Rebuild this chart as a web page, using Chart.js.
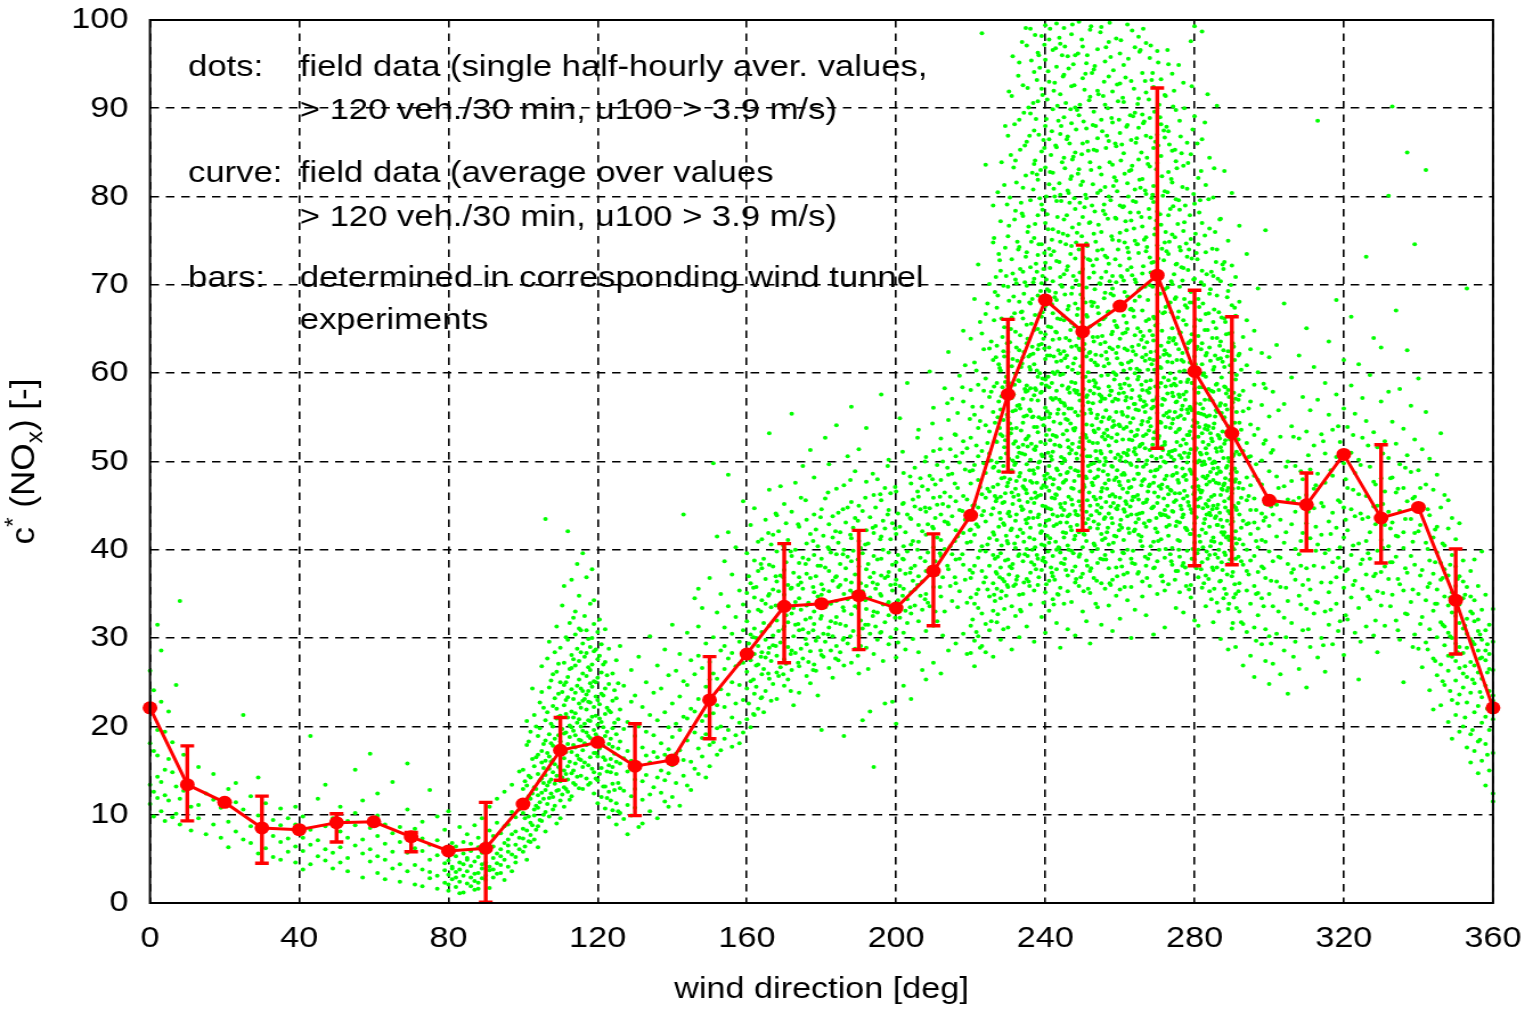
<!DOCTYPE html>
<html>
<head>
<meta charset="utf-8">
<script src="https://cdn.jsdelivr.net/npm/chart.js@4.4.1/dist/chart.umd.min.js"></script>
<style>
html,body{margin:0;padding:0;background:#fff;overflow:hidden;}
#wrap{width:1345px;height:1009px;transform:scaleX(1.13978);transform-origin:0 0;}
</style>
</head>
<body>
<div id="wrap"><canvas id="c" width="1345" height="1009"></canvas></div>
<script>
// ---------- data ----------
const curveDirs = [0,10,20,30,40,50,60,70,80,90,100,110,120,130,140,150,160,170,180,190,200,210,220,230,240,250,260,270,280,290,300,310,320,330,340,350,360];
const curveMean = [22.1,13.4,11.4,8.5,8.3,9.1,9.2,7.5,5.9,6.2,11.2,17.3,18.2,15.5,16.2,23.0,28.2,33.6,33.9,34.8,33.4,37.6,43.9,57.6,68.3,64.7,67.6,71.1,60.2,53.2,45.6,45.1,50.8,43.6,44.8,34.3,22.1];

const barDirs = [10,30,50,70,90,110,130,150,170,190,210,230,250,270,280,290,310,330,350];
const barLow  = [9.3,4.5,6.9,5.8,0.1,13.9,9.9,18.6,27.2,28.7,31.4,48.8,42.2,51.5,38.2,38.3,39.9,38.5,28.2];
const barHigh = [17.8,12.1,10.1,8.0,11.4,21.0,20.3,27.9,40.7,42.2,41.8,66.1,74.5,92.3,69.4,66.4,48.7,51.9,40.1];

const xTickValues = [0,40,80,120,160,200,240,280,320,360];
const yTickValues = [0,10,20,30,40,50,60,70,80,90,100];

const legendKeys = ["dots:", "curve:", "bars:"];
const legendLines = [
  ["field data (single half-hourly aver. values,", "> 120 veh./30 min, u100 > 3.9 m/s)"],
  ["field data (average over values", "> 120 veh./30 min, u100 > 3.9 m/s)"],
  ["determined in corresponding wind tunnel", "experiments"]
];

// field data: [wind direction, c* values ...]
const fieldDots = [
[0,22.5,18.1,13.4,26.3,11.2],[1,17.2,12.6,24.1,9.8],[2,14.3,19.6,31.5,11.9,16.7],[3,10.4,22.8,13.7,28.6],
[4,15.1,12.2,9.3,19.4],[5,11.6,16.3,21.7],[6,9.7,14.8,18.2],[7,13.2,10.1,24.7],[8,11.8,8.9,34.2],[9,12.7,16.8],
[11,10.9,13.6,8.2],[13,9.6,15.4,11.1],[15,7.8,12.4],[17,8.9,11.7,14.6],[19,10.8,7.4],[21,9.2,12.9,6.3],
[23,8.1,11.4,13.6],[25,7.2,10.6,21.3],[27,6.8,12.1,8.7],[29,5.6,9.9,14.2],[31,8.4,6.2,11.3],[33,7.6,9.4,5.2],
[35,6.9,8.8,10.7,4.9],[37,7.3,9.6,5.8],[39,6.4,8.9,4.6,10.9],[41,5.9,7.4,9.8,3.8],[43,6.6,8.3,4.4,18.9],
[45,7.1,5.3,11.8],[47,4.8,8.7,6.1,13.4],[49,5.7,9.6,3.9],[51,8.1,6.3,10.9,4.6],[53,7.4,5.1,9.3,3.6],
[55,8.8,6.5,10.2,15.1],[57,7.2,5.6,2.9,11.6],[59,6.1,8.5,4.7,16.9],[61,7.6,5.3,9.9,3.4,12.4],[63,6.7,4.9,8.9,2.7],
[65,7.9,5.8,3.9,13.7],[67,4.4,6.9,8.6,2.4],[69,5.7,3.6,7.8,10.6,15.8],[71,6.2,4.3,2.1,8.4],[73,3.8,5.9,7.3,1.9,9.2],
[75,4.9,2.8,6.6,3.5,12.8],[77,3.1,5.4,1.6,7.1,9.8],[79,4.5,2.3,6.2,3.7,8.3],
[80,3.2,4.8,2.1,5.9,1.4,10.4],[81,2.7,4.1,6.8,3.9],[82,5.3,3.5,1.8,6.4,2.9],[83,3.8,2.4,4.6,8.6,1.1],
[84,5.6,4.4,1.2,6.9,3.1],[85,2.2,7.8,5.1,3.6,4.9],[86,4.2,2.9,5.9,1.9,6.7],[87,3.3,2.5,8.8,4.7,1.5],
[88,3.4,5.2,2.3,6.3,1.6,7.4],[89,3.9,9.6,5.7,2.8,4.4],[90,4.6,3.1,5.8,2.6,6.9],[91,4.1,8.2,1.7,3.7,10.9],
[92,5.1,3.8,6.4,2.9,7.6],[93,4.5,9.1,5.6,11.8,3.3],[94,4.3,6.1,3.4,7.9,5.3],[95,8.7,2.6,6.8,12.6,4.9],
[96,5.8,7.2,4.1,8.9,6.5],[97,3.6,10.3,7.8,13.4,5.5],[98,6.6,8.1,5.2,9.7,4.6],[99,11.2,7.4,14.9,6.1,10.6],
[100,7.3,12.9,5.8,10.2,15.1,8.4],[100.5,9.6,6.4,13.8,11.1],[101,11.7,4.9,17.9,8.2,20.6,13.3],[102,6.9,14.2,9.1,19.4,7.7,11.8],
[102.5,12.4,16.3,8.8,24.3],[103,10.6,15.5,7.2,13.1,21.3,9.9],[104,16.8,8.7,12.2,18.9,10.8,14.6,6.3],[104.5,11.4,19.8,13.9,9.4,22.7],
[105,14.1,9.3,17.2,12.5,23.9,15.9,26.8],[106,10.3,16.1,12.8,20.7,8.1,18.4,14.5,43.5],[106.5,13.3,21.6,11.2,17.0,27.7],
[107,15.2,11.9,19.1,9.8,24.4,13.7,16.6,29.6],[108,12.0,17.8,22.3,14.8,10.6,20.0,25.9,16.2],[108.5,18.6,13.5,23.2,11.0,15.7,28.4],
[109,14.4,20.9,9.0,17.4,26.2,12.7,22.0,31.3],[110,16.9,11.6,21.2,13.8,25.0,18.3,9.6,15.1,28.9],[110.5,19.7,14.2,23.9,12.3,17.7,33.7],
[111,13.1,22.4,16.4,27.2,10.9,19.2,24.7,15.0,35.9],[112,18.0,12.6,25.6,15.5,21.0,29.8,14.0,23.3,42.1],[112.5,16.0,26.5,20.1,11.7,31.7,18.8],
[113,21.7,14.7,28.1,17.1,24.2,12.1,19.9,36.6,26.6],[114,15.8,23.8,19.0,30.4,13.4,26.9,17.6,21.5,33.0],[114.5,24.6,16.7,28.8,20.4,14.3,38.4],
[115,18.5,27.4,13.0,22.6,31.1,16.3,25.3,20.8,34.8],[116,22.9,15.4,29.4,19.5,26.0,12.9,24.0,17.3,39.6],[116.5,20.3,27.9,15.9,32.5,23.1,18.1],
[117,25.7,17.9,30.9,14.1,21.9,28.3,19.3,36.9,23.6],[118,16.5,24.9,20.6,29.0,13.6,22.7,33.9,18.7,26.4],[118.5,21.1,27.0,15.2,24.5,30.0,37.8],
[119,19.6,25.1,14.8,31.6,22.2,17.0,28.5,12.4,34.3],[120,23.0,16.6,27.6,20.2,13.9,25.5,18.2,30.7,11.3],[120.5,17.5,22.5,28.0,14.6,20.9,32.1],
[121,20.5,15.3,26.1,18.6,12.0,23.7,29.3],[122,16.2,24.3,13.2,21.4,18.9,10.7,27.3,31.0],[122.5,19.4,14.9,22.1,25.8,11.9],
[123,15.6,21.8,12.6,18.0,24.8,9.7,28.8],[124,17.7,13.5,22.9,10.5,19.8,15.4,26.0],[124.5,12.8,20.4,16.9,24.1],
[125,14.6,19.1,11.3,23.2,16.0,27.5,8.9],
[126,13.0,18.3,10.2,21.9,15.8,29.1],[127,9.5,16.4,12.7,24.6,19.7],[128,14.9,11.1,20.5,7.8,17.2],[129,12.1,22.8,16.1,9.9,26.4],
[130,18.9,10.8,14.0,23.5,12.9],[131,15.3,20.0,8.6,27.9],[132,11.7,17.6,22.2,13.8,9.0],[133,19.4,14.5,25.0,16.7],
[134,10.4,21.3,15.9,12.3,30.2],[135,17.1,23.8,13.1,19.0],[136,14.2,9.6,20.7,16.5,26.9],[137,18.1,12.5,24.3,15.0],
[138,11.5,21.6,16.8,28.7,13.9],[139,19.9,14.7,25.8,10.9,17.4],[140,15.6,22.6,12.0,18.8,31.5],[141,20.3,13.6,26.3,16.9],
[142,17.3,11.0,23.4,19.6,28.2],[143,14.4,21.1,16.2,44.0,25.1],[144,18.4,24.7,13.3,20.9,30.6],[145,16.0,22.0,27.5,12.8],
[146,19.3,25.9,15.2,34.5,21.7],[147,23.1,17.5,31.3,14.6,28.0,35.6],[148,20.6,26.6,16.6,33.4,18.7],[149,24.5,14.2,29.4,21.2,19.1],
[150,17.9,27.3,22.8,36.8,15.5,25.3],[151,21.5,30.1,18.2,49.8,26.0],[152,25.4,16.8,41.5,22.4,32.9,19.8],[153,28.6,20.0,24.2,17.3,35.0],
[154,22.2,31.2,18.6,26.5,29.1,38.7],[155,19.6,27.7,42.0,48.5,23.6,33.6],[156,25.0,17.7,30.5,21.0,37.2,28.3],[157,32.4,22.6,26.8,19.0,40.3],
[158,20.4,29.6,24.7,35.4,18.1,27.1],[159,27.2,23.0,33.8,19.3,30.9,45.5],
[160,24.3,35.1,28.7,20.8,31.9,39.6,26.2],[160.5,33.0,22.6,29.4,37.0],[161,27.5,19.9,36.2,30.4,42.8,25.1],
[162,31.1,23.7,44.7,28.2,34.6,21.3,38.8],[162.5,26.9,35.8,30.0,24.5],[163,29.1,37.6,22.0,33.2,27.0,40.9],
[164,34.3,25.9,41.2,30.7,23.3,37.9,28.4],[164.5,31.7,26.5,39.0,21.6],[165,36.7,29.8,24.0,33.9,43.4,27.8],
[166,28.9,38.3,31.4,46.8,25.4,53.2,35.0],[166.5,33.5,27.4,40.6,22.9],[167,38.1,30.3,24.8,35.5,41.7,29.2],
[168,32.0,26.1,43.9,36.4,28.0,39.8,23.1],[168.5,35.3,30.8,25.7,42.1],[169,29.5,37.1,33.8,26.7,47.2],
[170,34.9,27.6,40.2,31.3,45.2,24.6,37.7,29.9],[170.5,38.6,32.6,27.1,43.0],[171,31.8,36.0,25.3,41.1,29.0],
[172,35.7,28.6,55.4,32.8,39.3,26.4,44.3],[172.5,30.2,37.4,33.4,22.4],[173,40.0,34.1,28.3,47.6,31.5],
[174,26.8,36.9,42.6,30.9,34.5,23.8,38.5],[174.5,33.2,28.8,45.9,36.3],[175,31.0,49.5,39.1,27.7,35.6],
[176,37.3,29.3,43.4,33.7,25.7,40.7],[176.5,34.0,38.9,30.6,27.3],[177,32.3,51.3,36.8,28.5,41.8,24.9],
[178,39.4,31.6,48.2,35.2,27.0,44.0,33.0],[178.5,29.7,37.0,42.3,26.3],[179,34.7,40.4,30.1,38.2,23.5],
[180,36.1,28.1,44.6,32.5,19.6,39.0,34.9],[180.5,41.6,30.5,35.5,27.9],[181,33.5,52.7,38.0,29.6,45.8],
[182,37.6,31.2,42.9,26.6,49.7,35.3,40.1],[182.5,28.6,33.9,39.7,31.9],[183,36.5,43.8,30.2,41.4,25.5],
[184,34.2,54.1,39.5,29.1,46.9,32.4,37.0],[184.5,40.8,35.8,27.5,44.2],[185,31.6,38.4,36.0,42.0,28.4],
[186,18.9,35.0,40.0,30.0,47.3,33.1,26.9],[186.5,37.9,43.1,31.4,36.6],[187,50.6,34.4,29.4,39.2,44.8],
[188,32.7,56.2,41.3,36.3,27.2,38.7,45.4],[188.5,30.8,35.1,42.5,39.9],[189,37.2,28.8,43.6,33.6,48.9],
[190,41.0,34.7,51.4,30.3,38.1,26.0,45.0],[190.5,36.2,32.0,40.2,29.1],[191,20.7,39.6,35.3,44.4,31.1],
[192,37.8,53.8,33.3,42.2,28.9,47.7,35.9],[192.5,40.7,31.5,38.4,26.5],[193,34.6,21.7,43.7,36.9,30.5],
[194,15.4,39.3,33.0,46.2,37.4,28.2,41.9],[194.5,35.6,42.7,31.3,44.8],[195,38.9,32.9,48.0,36.1,29.8],
[196,57.6,41.5,34.8,39.0,30.7,45.6,37.1],[196.5,33.8,43.3,27.4,40.0],[197,22.6,36.8,42.4,31.8,47.0],
[198,39.7,50.2,34.1,44.5,29.3,37.5,32.6],[198.5,41.2,36.0,46.4,30.1],[199,22.8,38.3,33.4,43.0,35.4],
[200,36.6,20.3,41.8,31.0,46.6,38.6,27.8],[200.5,34.3,44.1,39.4,29.5],[201,54.9,37.7,32.3,42.6,35.9],
[202,40.4,24.6,35.6,45.3,30.6,38.9,48.7],[202.5,33.1,42.0,37.3,28.7],[203,58.9,39.8,34.4,44.0,31.7],
[204,23.1,37.9,43.5,32.8,47.5,40.6,35.2],[204.5,41.0,36.5,29.9,45.7],[205,38.2,44.9,33.7,49.3,35.5],
[206,53.6,40.9,31.9,46.0,37.0,42.8,28.4],[206.5,39.1,34.8,44.6,48.1],[207,36.4,26.4,42.1,47.2,33.2],
[208,25.3,41.7,37.6,50.5,35.0,44.3,30.8],[208.5,39.7,46.8,34.0,42.9],[209,60.2,38.0,44.7,33.6,48.4],
[210,27.2,56.1,40.3,45.9,35.8,51.2,42.4,31.4],[210.5,38.7,47.4,43.6,33.0],[211,31.9,41.4,49.6,37.2,45.1],
[212,26.0,44.0,39.3,52.6,34.7,47.9,41.1],[212.5,36.9,45.2,50.0,30.3],[213,58.3,40.1,33.0,46.5,43.2],
[214,62.4,28.6,42.9,48.5,37.8,54.7,44.9],[214.5,40.4,51.4,35.9,46.0],[215,48.6,34.2,43.8,39.5,57.1],
[216,53.0,29.4,45.5,38.9,50.6,42.2,36.2],[216.5,47.0,41.5,55.5,33.5],[217,59.7,35.3,44.5,49.9,39.0],
[218,64.8,30.5,46.1,41.9,52.3,38.3,56.8],[218.5,43.4,49.1,36.6,60.9],[219,28.2,51.5,40.8,45.7,34.0],
[220,31.4,44.2,36.8,52.7,28.3,40.9,47.5,58.1,34.6,63.9,42.3],[220.5,37.4,49.0,56.2,32.1,45.0],
[221,38.2,29.7,49.6,55.3,33.9,45.1,61.2,41.7,26.8,68.4],[221.5,42.9,35.0,60.3,51.8,30.7],
[222,35.5,47.9,30.2,53.8,42.6,39.1,58.7,44.8,33.4,72.3,50.6],[222.5,47.1,39.9,65.8,54.6,28.9],
[223,40.4,32.8,56.2,46.3,37.6,64.5,29.1,51.2,43.9,98.5],[223.5,36.3,58.0,44.4,49.8,62.7],
[224,36.9,48.7,59.4,31.6,43.2,54.1,39.8,66.7,83.6,45.9,28.4],[224.5,52.1,40.6,67.9,35.5,46.9],
[225,41.3,34.7,50.9,62.8,38.2,46.6,57.3,30.9,70.1,53.4],[225.5,44.0,57.9,31.9,63.6,50.1],
[226,33.1,44.7,55.6,39.4,49.3,61.5,36.2,47.1,74.8,42.0,27.9,79.0],[226.5,39.0,54.4,69.2,46.1,34.2],
[227,45.8,37.3,58.9,52.2,31.8,67.4,41.1,49.9,35.6,63.1],[227.5,56.8,42.6,61.0,48.9,73.5],
[228,39.6,50.4,34.5,60.3,46.0,55.9,29.8,71.6,43.5,53.1,38.0,77.2],[228.5,45.3,36.7,64.1,52.9,58.4],
[229,48.2,36.4,57.7,42.8,65.2,51.6,33.3,61.9,45.4,81.3],[229.5,50.9,41.6,71.0,34.8,59.6],
[230,40.7,52.9,35.8,62.4,47.6,58.6,31.2,69.8,44.1,55.0,38.9,75.5,86.9],[230.5,43.8,63.5,54.3,38.1,79.9,48.0],
[231,46.5,37.9,60.8,53.7,33.6,72.9,42.4,57.2,49.0,66.3,91.4,28.7],[231.5,57.6,46.0,68.7,35.9,52.0,83.3],
[232,43.3,55.8,36.1,64.7,49.8,59.9,32.5,78.4,46.9,52.3,40.2,84.1,70.6],[232.5,41.5,61.4,50.5,74.9,37.0,56.3],
[233,51.0,39.5,62.6,45.6,68.1,56.4,34.9,74.3,48.3,88.7,59.1,30.1,95.2],[233.5,53.5,44.9,66.9,33.0,79.3,60.7],
[234,44.6,57.1,38.7,66.2,51.9,61.8,35.0,81.0,47.2,71.5,41.9,92.6,54.4,77.8],[234.5,47.9,70.3,39.5,58.2,85.8,50.8],
[235,49.7,40.1,63.4,55.2,69.9,46.4,36.7,86.2,58.6,73.7,43.0,97.1,52.6,31.3,65.5],[235.5,61.9,43.6,76.6,52.9,36.4,90.1],
[236,42.5,58.3,37.4,67.9,50.2,62.1,33.8,79.6,47.8,89.4,55.7,72.0,44.3,99.0,60.4],[236.5,55.0,40.0,68.4,47.6,82.7,63.0],
[237,53.9,41.2,64.9,48.6,75.3,57.5,35.4,83.7,45.3,94.1,61.0,38.3,70.7,51.4,87.5,29.6],[237.5,45.9,72.4,58.1,37.8,88.8,51.7],
[238,46.1,59.6,39.0,68.8,53.3,77.9,43.7,90.8,56.9,65.0,36.0,81.9,49.3,96.3,62.7,73.4],[238.5,66.7,50.0,79.8,42.8,60.0,94.6],
[239,50.8,42.1,66.4,57.9,85.1,47.0,74.6,37.7,92.2,54.8,63.3,40.6,79.1,98.2,58.8,32.4,70.2],[239.5,54.1,39.1,71.8,47.3,86.4,63.9,34.0],
[240,44.9,61.6,38.6,72.5,52.0,83.3,48.0,95.5,56.1,67.6,35.2,88.0,42.7,77.0,59.3,99.4,64.4,30.6],[240.5,48.6,62.0,41.6,78.0,55.7,91.0,69.5],
[241,53.6,40.8,69.3,46.7,81.4,58.4,36.5,93.0,62.9,49.5,74.1,33.1,86.5,55.0,97.8,43.4],[241.5,57.2,44.6,73.4,50.6,65.2,84.7,38.0],
[242,47.4,63.8,39.3,76.3,57.0,89.9,51.1,34.4,70.4,44.0,96.6,60.1,82.7,37.0,66.8,53.0],[242.5,51.9,68.6,36.6,80.0,45.8,92.9,59.9],
[243,58.0,42.9,72.7,49.2,85.6,37.8,64.6,94.7,52.8,31.7,79.5,46.2,68.3,99.6,40.0,61.3],[243.5,62.6,47.0,76.0,40.3,55.9,88.6,34.9],
[244,45.2,66.1,54.3,80.2,39.7,91.6,59.8,48.5,74.9,35.7,87.1,62.2,43.1,97.3,51.7,70.9,28.9],[244.5,49.8,69.8,43.9,83.9,58.6,96.0],
[245,50.3,38.4,71.2,56.6,84.4,44.5,93.8,62.5,33.9,77.4,47.7,66.0,41.4,89.0,55.4,99.1],[245.5,54.8,41.9,74.6,47.9,64.0,90.6,37.7],
[246,43.8,60.7,37.1,75.6,52.4,86.8,48.8,67.2,31.0,95.9,58.2,40.5,80.7,54.7,72.1,35.3],[246.5,63.7,50.9,79.3,44.0,57.8,86.0],
[247,56.0,45.7,69.0,39.9,82.3,51.3,63.0,92.5,42.2,74.4,34.1,88.3,59.0,47.0,98.4,65.7],[247.5,46.9,71.0,53.7,39.6,84.5,61.1,95.0],
[248,41.6,58.9,49.0,73.0,36.3,85.0,61.7,44.4,78.6,53.8,96.0,38.1,67.9,30.3,90.1,55.6],[248.5,58.0,42.8,75.9,50.3,66.6,89.8],
[249,48.4,64.0,42.0,76.9,57.6,89.2,35.9,70.0,51.6,83.1,45.5,62.8,99.8,39.2,74.0],[249.5,52.7,68.9,45.0,81.3,36.9,60.8],
[250,53.2,40.3,68.5,46.8,81.7,59.5,33.0,93.4,56.3,71.8,43.6,86.0,64.9,37.3,77.7,50.0,97.0],[250.5,47.1,63.3,55.4,78.8,41.7,92.1],
[251,44.3,61.9,38.8,74.7,52.7,87.7,48.1,66.6,31.9,95.1,57.3,41.0,79.8,54.2,69.7],[251.5,60.1,49.5,72.9,43.5,85.2,56.7,35.6],
[252,50.6,37.6,65.3,45.0,83.9,58.0,91.3,42.5,72.8,35.1,62.4,98.9,48.9,77.1,55.9,29.4],[252.5,54.1,67.6,39.8,79.0,47.6,94.0],
[253,46.0,59.2,40.7,71.4,53.5,85.3,63.6,36.8,94.4,49.8,75.8,43.2,68.0,57.7,89.6],[253.5,45.7,62.1,51.2,74.9,58.9,88.0,33.9],
[254,55.3,42.4,67.5,48.3,80.4,38.5,92.0,60.9,45.1,73.9,33.5,86.6,52.1,96.7,64.1,40.1],[254.5,57.6,44.1,70.2,50.0,83.3,65.5],
[255,41.8,57.4,50.9,76.0,36.2,88.7,62.0,46.6,70.8,54.5,82.5,31.5,99.2,59.7,44.8],[255.5,48.9,66.1,38.9,78.4,55.0,91.4],
[256,52.5,39.4,66.3,47.5,81.1,57.1,90.4,43.7,73.3,35.6,63.5,95.3,50.4,78.0,41.3,69.1],[256.5,61.6,46.9,73.1,53.6,86.9,42.0],
[257,47.9,61.1,37.9,72.4,54.8,86.3,44.1,67.0,33.7,93.6,58.5,40.6,80.0,51.8,97.5],[257.5,51.1,69.0,44.9,79.6,58.0,95.8,36.0],
[258,56.8,43.0,69.6,49.4,83.6,39.8,91.9,62.7,46.3,75.1,36.6,64.7,53.9,88.4,30.8,71.0],[258.5,59.3,47.9,65.9,41.6,82.2,54.1],
[259,44.7,59.8,52.3,77.5,41.5,85.7,65.4,48.2,97.9,38.0,70.3,55.6,81.8,34.8,62.3],[259.5,45.0,63.0,50.8,74.0,57.0,90.8],
[260,50.1,38.9,67.8,45.9,79.0,58.7,92.8,42.8,72.2,54.0,87.2,35.5,63.9,96.2,47.3,75.9,32.2],[260.5,55.6,42.5,70.9,48.5,85.9,61.0,38.1],
[261,53.7,41.1,70.5,48.7,84.9,60.3,37.2,94.9,57.8,66.5,44.6,78.9,51.0,90.7,39.6],[261.5,50.0,64.6,45.5,77.2,56.9,93.5],
[262,46.5,62.6,40.0,74.2,55.1,88.1,50.7,68.7,34.3,81.5,43.8,99.5,59.4,71.7,37.4,65.0],[262.5,58.6,41.9,73.0,52.5,82.9,47.0],
[263,57.2,44.0,72.0,49.6,86.4,61.4,39.0,93.1,53.4,77.3,35.8,67.3,47.1,83.0,30.0],[263.5,46.0,67.1,54.9,79.5,39.9,89.1,62.5],
[264,42.3,60.0,51.5,75.0,38.4,89.5,64.3,46.0,70.6,56.5,96.9,33.2,80.8,52.9,68.2],[264.5,53.0,60.5,44.0,74.6,49.4,86.6],
[265,48.6,63.2,41.7,78.2,55.8,91.1,45.7,69.4,37.5,84.2,59.6,98.1,50.2,73.6,43.5,87.8],[265.5,57.0,41.0,69.6,51.9,81.0,64.7,96.6],
[266,54.6,40.4,67.1,47.8,82.0,61.8,36.4,94.0,52.0,76.6,44.2,71.3,58.1,89.3,34.7],[266.5,48.0,62.9,56.8,75.1,43.0,88.5],
[267,45.4,59.1,38.2,73.8,53.1,86.9,49.7,65.9,32.6,80.3,42.6,97.4,62.1,75.4,56.4,91.8],[267.5,54.5,46.6,68.3,39.0,83.7,60.4],
[268,51.3,64.8,43.3,77.6,39.5,88.9,58.3,47.4,70.0,35.9,83.4,54.9,95.7,61.6,73.1],[268.5,61.0,50.6,72.5,44.7,79.8,56.0,93.2],
[269,47.6,61.5,40.9,72.6,56.2,85.5,44.9,66.4,37.9,79.4,52.6,92.4,63.7,81.2,30.4],[269.5,49.0,65.4,42.4,76.4,58.5,86.2],
[270,55.5,42.0,68.9,49.1,83.8,59.9,38.7,90.0,53.6,74.5,45.3,65.6,57.4,96.5,35.0,87.0,78.3],[270.5,52.9,47.2,70.0,61.8,40.0,90.4],
[271,43.9,60.6,50.5,76.8,37.0,88.2,63.1,46.9,71.1,41.2,84.6,54.4,93.3,58.9],[271.5,57.1,44.0,66.8,51.3,80.1,36.4],
[272,52.2,39.1,66.9,48.0,80.6,57.0,35.4,91.5,62.6,44.5,74.8,51.9,86.7,69.5,31.2],[272.5,48.4,62.2,55.5,73.8,42.6,87.9],
[273,46.3,63.5,41.6,73.5,55.0,87.4,50.8,67.7,36.1,82.8,59.2,95.0,43.7,77.9],[273.5,53.8,39.5,68.0,46.8,78.6,60.0],
[274,57.8,44.4,70.1,51.2,85.2,61.2,38.3,93.9,48.4,75.7,40.2,65.1,54.3,81.6],[274.5,45.4,58.8,50.2,71.2,64.0,92.0],
[275,42.7,58.6,49.4,72.3,37.6,84.0,63.3,45.6,89.8,53.3,68.6,33.4,79.7,56.7],[275.5,55.0,41.1,66.3,47.9,76.9,37.6],
[276,50.7,39.2,64.5,46.4,78.5,57.3,88.6,43.1,69.8,35.2,60.2,53.7,74.3,41.0],[276.5,50.4,61.5,44.6,72.0,55.9,84.9],
[277,45.8,61.3,38.5,71.9,52.5,83.5,48.3,66.0,32.9,57.6,92.9,44.0,76.1],[277.5,42.5,57.0,48.5,67.7,38.0,79.0],
[278,55.9,42.2,67.4,49.9,80.9,37.3,62.8,46.1,73.2,53.0,86.1,39.9,59.0],[278.5,53.0,45.0,63.5,50.9,74.0,35.5],
[279,48.9,36.0,63.7,44.6,75.2,56.0,41.8,69.2,51.4,84.8,34.6,60.5,97.6],[279.5,47.1,58.9,40.1,68.0,54.0,87.6],
[280,43.0,58.2,50.0,70.7,38.9,79.2,54.6,46.5,65.3,32.0,89.1,61.9,40.8,99.3],[280.5,51.5,43.7,62.7,48.0,73.6,37.9],
[281,52.8,40.0,64.2,47.2,74.6,57.8,36.9,68.4,44.9,82.1,55.5,31.4],[281.5,45.9,56.5,40.9,66.0,51.0,79.6],
[282,46.7,61.0,38.6,71.6,53.2,42.3,77.0,49.6,63.4,35.7,86.5,58.4,98.7],[282.5,50.0,43.0,60.0,36.2,70.0,55.3],
[283,54.1,41.9,66.7,48.1,59.6,37.1,73.7,45.2,81.3,51.5,33.6,62.0],[283.5,44.9,53.6,39.0,64.9,48.4,91.6],
[284,44.2,57.0,39.4,69.0,50.3,62.9,35.3,76.4,47.7,55.2,42.6,84.4],[284.5,52.6,41.0,58.0,46.0,71.5,34.4],
[285,49.2,37.7,60.4,45.0,71.0,53.8,41.4,65.8,31.8,57.9,79.9,47.9],[285.5,43.6,55.1,39.5,62.0,49.9,76.0],
[286,42.8,55.6,38.0,64.0,48.6,74.0,44.7,58.8,34.0,68.8,51.1,90.3],[286.5,47.5,40.0,58.1,52.9,33.0,66.9],
[287,51.6,40.7,61.7,46.2,70.4,36.5,56.6,43.4,77.5,29.9,63.6,48.8],[287.5,42.6,53.4,37.7,61.3,46.8,72.3],
[288,45.5,58.5,39.7,66.2,52.0,35.6,72.6,47.5,60.7,42.0,55.0,82.9],[288.5,49.3,41.4,57.7,35.0,64.4,53.3],
[289,50.4,38.4,62.5,44.4,69.3,54.0,33.3,58.1,41.5,75.0,47.0,28.7],[289.5,44.1,52.5,38.9,60.9,47.9],
[290,43.6,56.1,37.0,64.6,49.0,72.2,40.4,53.5,60.0,31.1,46.4,67.7,80.4],[290.5,40.1,50.8,45.0,57.8,34.6,63.0],
[291,48.0,39.0,59.3,44.8,66.5,35.0,52.9,42.1,70.9,57.1,29.0],[292,41.2,54.4,36.2,62.2,47.6,33.0,57.5,44.0,68.1,50.8,76.7],
[292.5,45.9,38.7,53.6,42.5,60.4,31.8],[293,46.9,38.3,58.0,43.3,64.1,31.6,51.2,40.6,55.7,26.9],
[294,40.0,52.1,35.4,60.9,45.6,48.2,37.6,66.0,42.9,30.7,73.5],[294.5,43.0,37.2,50.5,46.1,56.0],
[295,44.5,56.8,38.8,50.6,33.9,62.7,41.8,47.3,28.0,54.2],[296,39.3,48.4,35.9,58.7,43.1,31.2,53.0,45.8,64.8,25.6],
[296.5,41.0,35.0,49.7,44.5,29.7],[297,42.4,53.7,37.5,47.9,32.6,60.1,40.3,69.6,35.1],[298,38.1,50.1,44.1,34.5,56.4,41.1,29.3,47.4,62.3],
[298.5,43.3,37.9,52.0,33.6,58.8],[299,45.2,36.8,52.4,40.9,31.0,58.3,43.7,27.4,76.2],[300,39.8,48.9,35.0,55.1,42.7,30.2,46.0,61.8,24.8],
[301,44.0,33.6,51.3,38.7,27.1,57.9],[302,41.5,36.4,48.3,30.5,63.2,45.1],[303,35.8,52.8,43.4,25.9,39.1],
[304,47.2,32.3,40.8,56.5,28.6,67.9],[305,38.4,45.7,34.2,50.0,23.7],[306,42.9,31.7,54.0,37.4,47.8,59.5],
[307,36.6,49.5,29.6,44.3,40.1],[308,45.9,34.8,52.6,26.5,39.5,62.0],[309,41.9,30.9,48.0,36.0,57.3],
[310,37.9,46.2,33.3,53.4,43.0,24.4,65.1],[311,49.1,35.5,41.3,29.0,55.8],[312,44.7,38.2,51.8,32.8,46.9,60.7],
[313,40.6,34.0,48.6,27.8,88.6,57.0],[314,36.3,45.3,53.1,30.0,41.7],[315,47.6,39.6,33.0,50.9,58.9,26.2],
[316,43.2,35.2,55.3,40.0,31.5,63.6],[317,38.6,48.4,44.2,29.3,53.6],[318,50.5,36.9,42.5,57.6,33.9,68.3],
[319,45.4,40.3,31.9,52.2,38.0],[320,41.4,49.8,35.7,56.0,44.8,28.1,61.5],[321,47.0,37.8,53.9,42.2,32.1],
[322,39.4,51.0,44.6,34.6,58.6,66.4],[323,43.8,36.5,48.7,30.6,55.4],[324,50.2,40.7,33.4,46.3,61.0,25.3],
[325,38.9,52.7,43.5,35.6,57.2],[326,46.1,37.2,41.0,54.6,31.3,73.2],[327,42.0,49.4,34.4,59.8,39.0],
[328,37.0,47.7,44.9,30.3,53.3,64.0],[329,45.0,39.9,51.6,35.3,28.4],[330,41.1,48.1,33.7,56.8,43.9,62.9,37.5],
[331,46.6,38.1,52.3,31.4,42.8],[332,36.7,44.3,50.4,40.4,57.9,80.1],[333,43.1,34.9,48.2,38.6,90.2,54.5],
[334,39.2,46.5,32.0,52.0,41.6,67.1],[335,44.4,36.1,49.7,29.8,58.2],[336,40.2,47.0,35.4,53.7,42.0,25.0],
[337,37.4,45.5,85.0,32.7,50.7,62.6],[338,43.5,39.3,48.8,34.1,56.3],[339,38.3,46.0,30.4,52.5,41.9,74.6],
[340,42.1,35.0,49.0,28.8,44.7,59.4],[341,37.7,45.1,32.4,51.4,26.7],[342,40.8,34.3,47.4,29.5,83.0,55.6],
[343,36.2,43.9,31.0,38.8,24.1,50.3],[344,41.4,33.1,46.8,27.7,37.3,21.9],[345,35.5,42.6,30.1,48.5,25.8,39.7,33.9],
[346,38.5,31.8,44.8,27.0,36.6,22.4,53.2],[347,34.7,40.5,29.2,46.2,24.7,37.8,31.3],[348,37.1,30.6,42.4,26.3,33.7,20.5,45.6,28.0],
[349,32.9,39.4,27.9,35.2,23.0,43.6,30.0,18.6],[350,35.9,29.4,41.2,25.2,32.5,21.3,38.1,27.4],[351,31.7,37.0,26.6,33.8,23.6,43.0,19.4,29.0],
[352,34.5,28.3,38.8,24.4,31.1,20.0,36.4,26.0],[353,30.5,35.8,25.6,69.6,32.2,22.7,17.6,28.9],[354,33.0,27.3,37.6,23.8,29.9,19.1,34.7,15.9],
[355,29.3,34.3,24.9,31.9,21.6,26.9,17.2,38.9],[356,32.1,26.1,35.9,22.3,28.6,18.3,30.8,14.7],[357,27.8,33.2,23.3,29.8,20.4,25.4,16.1,39.8],
[358,30.9,24.6,34.9,21.1,27.5,18.0,13.3,28.6],[359,26.5,31.5,22.1,28.2,19.6,24.0,15.0],[360,29.6,23.5,33.3,20.8,26.4,17.0,12.4,11.5,22.9]
];

// more field data in the dense clusters: [wind direction, c* values ...]
const fieldDotsDense = [
[101.5,9.8,14.4,7.0,12.1,18.3],[103.5,12.9,8.3,16.5,11.0,20.0],[105.5,13.6,10.0,18.0,15.3,22.1,11.8],
[107.5,16.0,12.4,20.3,14.0,25.2,18.1],[109.5,15.4,19.0,12.8,23.7,17.0,27.1,21.1],[111.5,17.1,21.4,14.6,25.0,19.3,30.1,12.9,23.0],
[113.5,19.5,15.0,23.1,17.9,27.6,21.0,32.3,13.6],[115.5,20.0,16.2,24.3,18.4,28.4,22.1,14.4,30.9],[117.5,18.9,22.8,15.6,26.7,20.7,29.9,13.4,24.0],
[119.5,17.0,21.2,14.1,25.0,19.1,28.7,23.4],[121.5,16.5,19.9,13.2,23.5,17.8,27.0],[123.5,14.8,18.6,11.6,21.6,16.3],[125.5,13.6,17.5,10.4,20.8,24.9],
[161.75,30.1,25.3,35.7,21.4],[163.75,33.0,27.9,38.4,23.2],[165.75,28.3,34.8,26.0,41.9],[167.75,33.7,29.1,37.0,44.1],
[169.75,31.0,36.9,25.9,40.5],[171.75,35.6,28.2,39.8,24.0],[173.75,36.0,31.6,42.9,27.2],[175.75,32.1,38.4,29.9,45.6],
[177.75,35.8,30.9,41.0,26.4],[179.75,38.2,32.2,43.7,28.6],[181.75,34.0,40.3,30.4,46.5],[183.75,36.9,31.7,42.1,27.7],
[185.75,39.5,33.5,44.6,29.8],[187.75,35.4,41.7,30.2,47.9],[189.75,38.9,33.4,43.3,28.0],[191.75,40.6,34.3,45.9,31.5],
[193.75,36.3,42.5,32.5,48.6],[195.75,41.2,35.0,46.3,30.6],[197.75,37.0,44.0,33.9,49.5],[199.75,42.4,36.1,47.1,32.3],
[201.75,39.0,45.2,34.8,51.1],[203.75,43.6,37.4,48.3,33.5],[205.75,40.0,46.6,36.0,52.7],[207.75,44.8,38.7,50.0,34.4],
[209.75,42.6,48.0,37.1,54.3],[211.75,46.0,39.6,51.4,35.8],[213.75,43.1,49.3,38.2,56.6],[215.75,47.5,41.0,53.1,36.9],
[217.75,44.4,51.0,39.5,58.4],[219.75,48.9,42.2,54.8,37.7],
[226.25,41.7,58.5,34.9,66.0,49.4,75.3],[226.75,52.3,37.5,61.8,45.5,70.9],[227.25,39.2,55.0,47.4,68.8,32.7,80.5],
[227.75,60.6,44.2,53.8,36.9,72.8],[228.25,48.1,66.2,40.5,57.4,83.9,35.3],[228.75,54.7,43.0,69.9,49.5,62.5,31.0],
[229.25,46.4,38.8,59.0,74.2,52.4,88.0],[229.75,63.4,41.0,55.3,47.2,79.1,36.0],[230.25,50.3,68.2,44.3,58.9,37.2,91.9,76.7],
[230.75,57.4,42.2,65.0,48.8,84.7,53.2],[231.25,45.2,61.6,38.4,71.3,55.7,95.9,50.1],[231.75,66.8,49.6,40.7,77.4,58.7,88.2],
[232.25,53.8,44.0,62.9,36.6,81.6,70.2,47.8],[232.75,59.2,46.2,74.0,51.6,93.7,39.3],[233.25,48.7,64.3,42.3,85.3,56.0,71.8,33.2],
[233.75,61.1,50.9,78.1,44.5,97.5,67.0],[234.25,55.1,40.9,69.0,47.0,89.5,62.4,36.3],[234.75,46.8,73.2,57.9,43.4,82.4,52.5,99.1],
[235.25,63.9,51.7,39.3,76.0,58.0,92.3,45.4],[235.75,49.0,68.0,55.9,41.4,86.9,60.7,35.9],[236.25,57.0,45.8,74.9,52.0,95.4,65.6,38.6],
[236.75,62.2,43.6,80.8,49.0,70.3,90.6,55.1],[237.25,51.3,66.6,40.3,84.1,58.3,76.9,46.5,98.3],[237.75,60.3,47.6,71.5,53.9,93.2,39.4,82.5],
[238.25,44.0,63.2,55.0,87.0,49.9,74.6,36.9,96.0],[238.75,57.8,41.9,69.3,52.2,83.0,64.6,46.2],[239.25,50.6,66.9,38.8,78.5,59.4,91.5,45.0,71.0],
[239.75,62.8,48.4,85.5,54.9,73.6,40.5,97.2],[240.25,53.0,43.3,70.6,58.6,88.8,47.1,80.0,36.1],[240.75,65.3,51.0,76.3,44.7,94.2,59.6,39.8],
[241.25,48.2,62.0,55.4,82.8,41.3,71.9,99.0,52.4],[241.75,58.9,45.9,67.8,50.2,87.4,75.1,37.4],[242.25,54.5,42.7,73.8,61.9,92.0,48.0,80.9,33.8],
[242.75,46.3,64.7,57.2,85.8,52.9,69.1,40.9,96.8],[243.25,60.2,49.0,77.7,43.8,66.2,90.3,55.4,35.0],[243.75,51.8,63.9,40.2,81.5,57.0,72.6,46.9,98.0],
[244.25,56.7,44.8,70.0,61.4,88.0,50.5,38.5,79.5],[244.75,47.6,59.9,53.1,75.8,42.0,93.6,66.5],[245.25,61.7,50.1,83.2,45.3,68.9,56.3,97.0,39.0],
[245.75,53.5,71.7,43.1,62.0,86.5,48.7,77.9],[246.25,46.0,58.4,51.6,80.4,40.0,67.6,94.5,56.0],[246.75,64.9,49.3,73.5,54.3,89.9,42.6,82.0],
[247.25,52.0,45.1,69.7,60.4,84.2,37.6,76.5,99.5],[247.75,58.1,47.8,79.8,53.5,65.3,92.6,41.2],[248.25,50.9,63.1,44.0,74.8,57.8,87.6,36.7,70.5],
[248.75,60.0,48.9,82.6,55.2,67.3,96.2,43.9],[249.25,46.6,56.9,71.4,52.2,90.4,62.6,39.5,79.3],[249.75,55.7,44.5,65.8,50.7,84.8,75.5,97.8],
[250.25,51.4,62.7,41.8,73.1,58.2,88.5,47.4,35.3],[250.75,59.6,48.3,80.2,53.0,68.0,93.9,43.0],[251.25,45.6,57.5,66.4,50.6,86.2,74.4,38.2,96.0],
[251.75,62.3,52.3,77.0,46.5,59.1,90.9,70.8],[252.25,49.7,43.9,68.1,55.5,83.0,61.5,37.9,99.3],[252.75,56.6,47.3,72.2,64.1,88.1,52.1,81.4],
[253.25,53.3,40.5,61.2,48.1,78.3,69.5,94.8,58.5],[253.75,44.4,60.9,54.9,85.2,50.3,72.9,36.5],[254.25,58.3,49.1,66.8,42.9,91.6,76.8,53.7],
[254.75,51.2,63.3,45.9,80.7,56.8,70.1,98.6,39.0],[255.25,47.0,57.1,74.0,52.8,87.4,64.2,41.1],[255.75,60.8,53.2,43.5,79.1,68.5,93.0,49.6],
[256.25,55.8,45.4,62.4,71.5,50.0,85.5,38.9,96.9],[256.75,48.5,59.8,52.9,77.5,66.9,90.0,42.5],[257.25,57.5,46.1,70.4,55.0,83.9,62.9,36.2,99.7],
[257.75,52.7,64.4,43.6,75.5,49.5,88.9,58.0],[258.25,45.3,60.1,54.6,81.2,68.8,94.3,40.8],[258.75,59.9,50.4,72.9,57.1,86.0,46.0,77.6],
[259.25,53.1,44.6,65.2,49.0,80.6,61.7,92.7,37.0],[259.75,57.7,67.9,47.7,75.0,54.2,88.7,42.2],[260.25,50.5,61.1,43.4,71.0,58.3,84.1,97.7],
[260.75,46.9,55.3,78.8,64.5,52.5,91.2,39.7],[261.25,58.8,48.5,69.2,44.3,82.6,62.8,74.8,35.8],[261.75,53.9,65.7,50.9,87.9,57.3,76.2,45.2],
[262.25,47.8,56.1,73.7,42.4,80.0,61.2,95.6,51.3],[262.75,60.5,49.8,67.2,54.4,89.2,44.9,78.2],[263.25,52.4,45.6,63.0,58.1,83.5,71.1,38.5,98.8],
[263.75,56.5,48.0,76.4,51.1,66.4,92.2,42.1],[264.25,50.8,62.1,43.1,70.3,55.9,86.1,79.4],[264.75,46.2,59.3,53.6,74.6,48.6,90.5,65.1,37.3],
[265.25,57.4,51.7,68.7,44.1,81.9,60.3,96.4],[265.75,54.2,63.8,47.3,77.7,58.7,85.0,41.5],[266.25,49.4,56.2,72.1,45.3,88.3,64.2,52.9,99.0],
[266.75,61.4,51.5,80.7,55.6,69.8,93.1,39.2],[267.25,45.7,58.0,50.1,74.3,63.5,84.4,36.8],[267.75,53.5,66.1,47.2,78.6,57.8,91.0,43.3],
[268.25,59.2,48.9,71.4,54.0,86.7,62.4,40.4,97.1],[268.75,51.9,44.8,64.3,56.9,80.2,69.8,94.0],[269.25,48.3,60.4,53.3,75.7,46.5,89.6,66.2,38.0],
[269.75,57.1,50.3,70.7,62.5,83.1,43.6,77.3],[270.25,52.6,46.0,67.0,58.4,85.8,73.0,95.2,41.0],[270.75,60.7,49.4,78.0,54.5,69.0,89.0,44.1],
[271.25,47.4,56.4,64.8,51.7,82.3,74.1,37.1],[271.75,55.2,62.1,45.8,72.8,59.5,87.5,50.0],[272.25,49.9,58.5,43.9,76.0,53.9,67.5,91.4,40.1],
[272.75,57.7,47.1,69.7,61.3,80.5,45.0,96.6],[273.25,51.1,64.0,55.7,74.9,42.8,85.9,62.0],[273.75,46.7,58.6,50.5,70.4,66.9,82.0,38.7],
[274.25,54.8,44.3,63.7,57.4,78.9,48.5,90.2],[274.75,59.4,51.3,68.4,46.4,75.4,55.6,85.3,36.6],[275.25,48.7,56.8,43.2,72.4,61.5,83.2,52.2],
[275.75,53.6,62.7,47.6,67.0,57.6,79.6,40.0,94.9],[276.25,45.0,59.0,51.8,73.9,55.2,86.8,64.6],[276.75,56.3,49.2,70.5,43.7,62.3,81.1,38.2],
[277.25,51.0,60.3,46.7,68.4,54.8,77.1,90.0],[277.75,47.9,57.9,42.4,65.5,52.0,74.7,35.9],[278.25,55.5,50.5,63.4,45.4,71.7,59.3,83.8],
[278.75,49.1,61.2,53.4,68.0,41.8,77.9,56.2],[279.25,44.2,55.8,48.6,64.4,58.9,73.0,39.0,92.5],[279.75,52.6,60.0,46.3,70.6,54.7,80.3,42.3],
[280.25,48.0,56.6,43.6,66.1,51.3,75.8,61.0],[280.75,54.4,45.7,63.0,49.9,72.9,39.6,86.0],[281.25,50.1,58.4,41.6,67.5,53.9,78.2,46.8],
[281.75,46.5,55.4,62.7,50.8,70.3,37.8,82.9],[282.25,52.2,44.7,59.8,48.3,67.9,56.0,40.3],[282.75,57.0,49.7,64.9,43.5,75.6,53.7,88.4],
[283.25,47.4,55.1,39.8,62.3,50.9,71.2,44.0],[283.75,51.9,58.2,45.6,66.8,54.0,36.7,79.7],[284.25,43.9,53.2,48.8,61.4,40.4,69.5,57.1],
[284.75,49.8,56.9,44.6,64.0,52.3,74.1,38.0],[285.25,46.2,54.3,40.9,60.7,50.0,67.2,35.6,83.2],[285.75,51.5,43.8,58.7,47.6,65.1,55.8,72.6],
[286.25,45.1,53.0,39.1,61.6,49.3,70.7,42.8],[286.75,48.9,56.3,44.2,63.1,52.6,36.4,77.4],[287.25,42.0,51.2,46.9,59.5,55.5,66.3,38.6],
[287.75,47.3,54.8,41.7,62.6,50.4,71.8,34.5],[288.25,44.8,52.4,39.4,58.4,48.1,65.8,56.4],[288.75,49.5,43.3,55.9,61.9,37.2,68.6,46.7],
[289.25,41.1,50.0,45.8,57.3,53.6,64.5,33.9],[289.75,46.0,52.8,39.9,60.1,48.6,70.0,42.9],[290.25,43.2,50.6,37.5,56.7,46.9,63.4,31.7],
[290.75,47.7,41.3,54.4,49.2,61.5,36.1,67.4],[291.25,40.7,48.8,44.5,55.6,51.1,33.4,59.8],[291.75,45.3,39.2,52.5,47.0,62.0,35.3,57.0],
[300.5,36.5,44.9,29.4,51.0],[302.5,39.2,33.0,47.0,55.8],[304.5,42.0,35.7,30.1,49.4],[306.5,37.8,45.5,27.9,52.8],
[308.5,41.0,33.8,48.9,38.2],[310.5,44.3,36.6,31.0,50.7],[312.5,39.9,47.3,34.1,42.6],[314.5,38.0,44.9,29.2,52.3],
[316.5,41.8,36.3,49.0,33.2],[318.5,45.6,39.1,54.0,30.8],[320.5,43.4,37.6,48.0,32.6],[322.5,40.5,46.8,36.0,53.0],
[324.5,44.1,38.4,49.6,29.6],[326.5,39.6,43.7,34.7,51.8],[328.5,42.9,37.3,47.4,32.0],[330.5,40.2,45.2,35.1,50.9],
[332.5,38.6,42.4,33.6,48.1],[334.5,41.5,36.7,46.9,30.9],[336.5,37.9,43.5,32.8,49.3],[338.5,40.9,35.5,45.8,29.0],
[340.5,37.1,42.8,31.6,47.0],[342.5,35.8,40.1,28.7,44.6],[344.5,33.9,38.6,27.4,42.3],[346.5,31.5,36.8,25.1,40.7],
[348.5,30.2,34.6,24.0,38.3],[350.5,28.4,33.1,22.6,36.7],[352.5,26.8,31.4,21.0,34.9],[354.5,25.3,29.6,19.6,32.8],
[356.5,23.9,27.7,18.5,30.4],[358.5,22.0,26.1,16.8,29.3]
];

// ---------- build datasets from the arrays ----------
const dotPoints = [];
fieldDots.concat(fieldDotsDense).forEach(row => { for (let i = 1; i < row.length; i++) dotPoints.push({x: row[0], y: row[i]}); });
const curvePoints = curveDirs.map((d, i) => ({x: d, y: curveMean[i]}));

const FONT = "'Liberation Sans', Arial, Helvetica, sans-serif";
Chart.defaults.font.family = FONT;
Chart.defaults.color = '#000';

const errorBars = {
  id: 'errorBars',
  afterDatasetsDraw(chart) {
    const {ctx, scales: {x, y}} = chart;
    ctx.save();
    ctx.strokeStyle = '#ff0000';
    ctx.lineWidth = 3.4;
    barDirs.forEach((d, i) => {
      const px = x.getPixelForValue(d);
      const lo = y.getPixelForValue(barLow[i]);
      const hi = y.getPixelForValue(barHigh[i]);
      ctx.beginPath();
      ctx.moveTo(px, lo); ctx.lineTo(px, hi);
      ctx.moveTo(px - 6, lo); ctx.lineTo(px + 6, lo);
      ctx.moveTo(px - 6, hi); ctx.lineTo(px + 6, hi);
      ctx.stroke();
    });
    ctx.restore();
  }
};

const frameAndText = {
  id: 'frameAndText',
  afterDraw(chart) {
    const {ctx, chartArea: a} = chart;
    ctx.save();
    ctx.strokeStyle = '#000';
    ctx.lineWidth = 2;
    ctx.strokeRect(a.left, a.top, a.right - a.left, a.bottom - a.top);
    ctx.fillStyle = '#000';
    ctx.font = '30.4px ' + FONT;
    ctx.textBaseline = 'alphabetic';
    ctx.textAlign = 'left';
    const baselines = [[76, 119], [182, 226], [287, 329]];
    legendKeys.forEach((k, i) => {
      ctx.fillText(k, 165, baselines[i][0]);
      ctx.fillText(legendLines[i][0], 263, baselines[i][0]);
      ctx.fillText(legendLines[i][1], 263, baselines[i][1]);
    });
    // y axis title c* (NOx) [-]
    ctx.translate(30, (a.top + a.bottom) / 2);
    ctx.rotate(-Math.PI / 2);
    ctx.scale(1.17, 1);
    const big = '30px ' + FONT, small = '21px ' + FONT;
    const parts = [['c', big, 0], ['*', small, -12], [' (NO', big, 0], ['x', small, 7], [') [-]', big, 0]];
    let total = 0;
    parts.forEach(p => { ctx.font = p[1]; total += ctx.measureText(p[0]).width; });
    let cx = -total / 2;
    parts.forEach(p => { ctx.font = p[1]; ctx.fillText(p[0], cx, p[2]); cx += ctx.measureText(p[0]).width; });
    ctx.restore();
  }
};

new Chart(document.getElementById('c'), {
  type: 'scatter',
  data: {
    datasets: [
      {
        label: 'curve',
        data: curvePoints,
        showLine: true,
        borderColor: '#ff0000',
        backgroundColor: '#ff0000',
        borderWidth: 3,
        pointRadius: 6.5,
        pointBorderWidth: 0,
        pointBackgroundColor: '#ff0000',
        clip: false,
        order: 0
      },
      {
        label: 'dots',
        data: dotPoints,
        showLine: false,
        pointRadius: 2.0,
        pointBorderWidth: 0,
        pointBackgroundColor: '#00ff00',
        backgroundColor: '#00ff00',
        clip: false,
        order: 2
      }
    ]
  },
  options: {
    responsive: false,
    animation: false,
    layout: { padding: 0 },
    plugins: { legend: { display: false }, tooltip: { enabled: false } },
    scales: {
      x: {
        type: 'linear', min: 0, max: 360,
        afterFit: s => { s.height = 106; s.paddingLeft = 0; s.paddingRight = 35.1; },
        afterBuildTicks: s => { s.ticks = xTickValues.map(v => ({value: v})); },
        ticks: { font: { size: 30 }, padding: 18, color: '#000', maxRotation: 0 },
        grid: { color: '#000', lineWidth: 1.6, drawTicks: false },
        border: { display: false, dash: [7.5, 6] },
        title: { display: true, text: 'wind direction [deg]', font: { size: 30 }, color: '#000', padding: { top: 0, bottom: 1 } }
      },
      y: {
        type: 'linear', min: 0, max: 100,
        afterFit: s => { s.width = 131.6; s.paddingTop = 20; s.paddingBottom = 0; },
        afterBuildTicks: s => { s.ticks = yTickValues.map(v => ({value: v})); },
        ticks: { font: { size: 30 }, padding: 19, color: '#000' },
        grid: { color: '#000', lineWidth: 1.6, drawTicks: false },
        border: { display: false, dash: [7.5, 6] }
      }
    }
  },
  plugins: [errorBars, frameAndText]
});
</script>
</body>
</html>
